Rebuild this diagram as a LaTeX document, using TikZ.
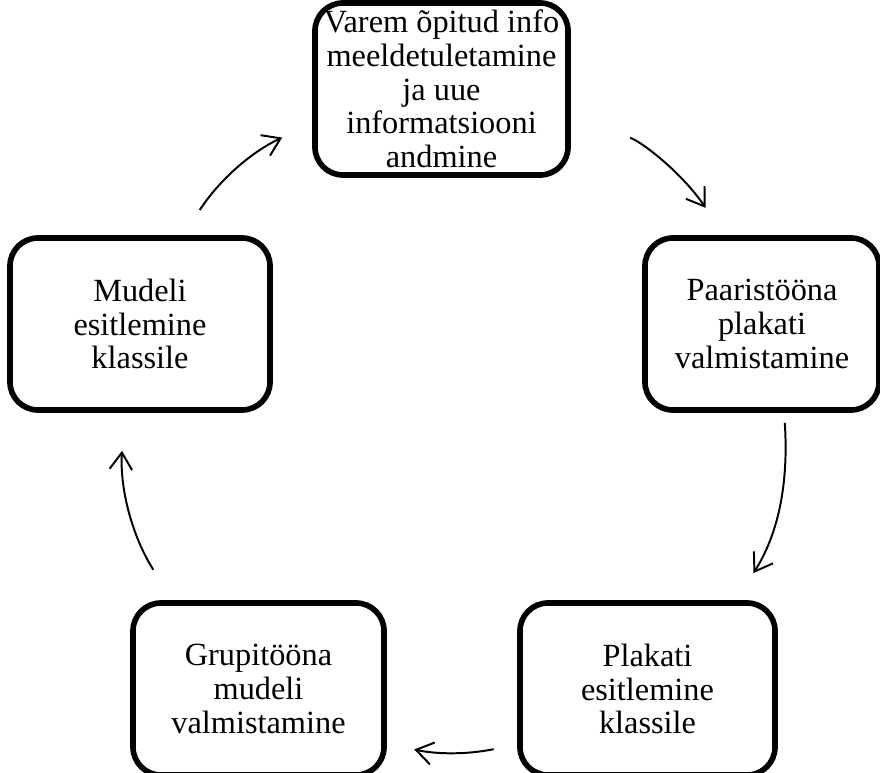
\documentclass[tikz,border=0pt]{standalone}
\usepackage{fontspec}
\setmainfont{Liberation Serif}
\usepackage{tikz}
\usetikzlibrary{arrows.meta, positioning, calc}

\begin{document}
\begin{tikzpicture}[
        x=0.025cm, y=0.025cm,
        box/.style={rectangle, rounded corners=0.7cm, draw=black, line width=4pt, fill=white, minimum width=#1, minimum height=4.3cm, inner sep=0pt, align=center, font=\fontsize{23}{24}\selectfont},
        arrow/.style={-{Straight Barb[length=12pt, width=16pt, line width=1.4pt]}, line width=1.4pt, black}
    ]
        \clip (0,0) rectangle (880,772);
        \fill[white] (0,0) rectangle (880,772);

        \node[box=6.325cm] (varem) at (441.5,683) {Varem õpitud info\\meeldetuletamine\\ja uue\\informatsiooni\\andmine};
        \node[box=5.85cm] (paar) at (762,448) {Paaristööna\\plakati\\valmistamine};
        \node[box=6.375cm] (plakati) at (647.5,83) {Plakati\\esitlemine\\klassile};
        \node[box=6.275cm] (grupi) at (258.5,83) {Grupitööna\\mudeli\\valmistamine};
        \node[box=6.5cm] (mudeli) at (140,448) {Mudeli\\esitlemine\\klassile};

        \draw[arrow, shorten <=0.75cm, shorten >=0.825cm] (mudeli.64) to[bend left=16] (varem.195);
        \draw[arrow, shorten <=1.575cm, shorten >=0.825cm] (varem.348) to[bend left=18] (paar.113);
        \draw[arrow, shorten <=0.25cm, shorten >=0.8cm] (paar.284) to[bend left=18] (plakati.45);
        \draw[arrow, shorten <=0.6cm, shorten >=0.7cm] (plakati.203) to[bend left=12] (grupi.337);
        \draw[arrow, shorten <=0.9cm, shorten >=0.95cm] (grupi.134) to[bend left=18] (mudeli.260);
    \end{tikzpicture}
\end{document}
